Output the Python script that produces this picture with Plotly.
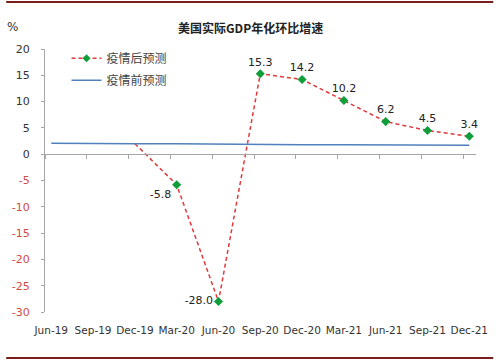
import plotly.graph_objects as go

categories = ["Jun-19", "Sep-19", "Dec-19", "Mar-20", "Jun-20", "Sep-20",
              "Dec-20", "Mar-21", "Jun-21", "Sep-21", "Dec-21"]
pre_covid = [2.1, 2.0, 2.0, 2.0, 1.9, 1.8, 1.8, 1.8, 1.8, 1.7, 1.7]
post_covid_cats = ["Dec-19", "Mar-20", "Jun-20", "Sep-20", "Dec-20",
                   "Mar-21", "Jun-21", "Sep-21", "Dec-21"]
post_covid = [2.0, -5.8, -28.0, 15.3, 14.2, 10.2, 6.2, 4.5, 3.4]
post_labels = ["", "-5.8", "-28.0", "15.3", "14.2", "10.2", "6.2", "4.5", "3.4"]
y_ticks = [-30, -25, -20, -15, -10, -5, 0, 5, 10, 15, 20]

pos = {c: i for i, c in enumerate(categories)}
x_pre = [pos[c] for c in categories]
x_post = [pos[c] for c in post_covid_cats]

RED = "#e0393b"
GREEN = "#0f9e3a"
BLUE = "#4f81bd"
NEG = "#d24a45"
AX = "#a6a6a6"

textpos = []
for i, v in enumerate(post_covid):
    if i == 0:
        textpos.append("top center")
    elif v < 0:
        textpos.append("bottom left" if v > -10 else "middle left")
    else:
        textpos.append("top center")

fig = go.Figure()
fig.add_trace(go.Scatter(
    x=x_post, y=post_covid, name="疫情后预测", mode="lines+markers+text",
    line=dict(color=RED, width=1.5, dash="4px,3px"),
    marker=dict(symbol="diamond", color=GREEN, line=dict(width=0), opacity=1,
                size=[0] + [7] * (len(post_covid) - 1)),
    text=post_labels, textposition=textpos,
    textfont=dict(family="DejaVu Sans", size=11, color="#222222"),
    cliponaxis=False, legendrank=1, legendgroup="post",
))
fig.add_trace(go.Scatter(
    x=x_pre, y=pre_covid, name="疫情前预测", mode="lines",
    line=dict(color=BLUE, width=1.5), legendrank=2, legendgroup="pre",
))
# carrier for the zero-line axis
fig.add_trace(go.Scatter(x=x_pre, y=[None] * len(x_pre), xaxis="x2",
                         showlegend=False, hoverinfo="skip", mode="lines"))

xr = [-0.15, 10.16]
boundary_ticks = [i - 0.15 for i in range(len(categories))]
tick_text = [
    (f"<span style='color:{NEG}'>{t}</span>" if t < 0 else str(t)) for t in y_ticks
]

fig.update_layout(
    width=500, height=361,
    margin=dict(l=36, r=14, t=49, b=49),
    paper_bgcolor="white", plot_bgcolor="white",
    font=dict(family="DejaVu Sans", size=10, color="#333333"),
    xaxis=dict(range=xr, tickvals=x_pre, ticktext=categories, showline=False,
               showgrid=False, zeroline=False, ticks="", ticklabelstandoff=10,
               tickfont=dict(size=10.5, color="#333333")),
    xaxis2=dict(range=xr, overlaying="x", anchor="free", position=0.6,
                showline=True, linecolor=AX, linewidth=1, ticks="outside",
                ticklen=4, tickcolor=AX, tickvals=boundary_ticks,
                showticklabels=False, showgrid=False, zeroline=False),
    yaxis=dict(range=[-30, 20], tickvals=y_ticks, ticktext=tick_text,
               showline=True, linecolor=AX, linewidth=1, ticks="outside",
               ticklen=3, tickcolor=AX, showgrid=False, zeroline=False,
               ticklabelstandoff=9, tickfont=dict(size=11, color="#333333")),
    legend=dict(x=0.05, y=1.02, xanchor="left", yanchor="top",
                traceorder="grouped", tracegroupgap=3,
                bgcolor="rgba(0,0,0,0)", font=dict(size=12, color="#444444",
                family="Noto Sans CJK SC"), itemwidth=30),
    showlegend=True,
    annotations=[
        dict(text="<b>美国实际GDP年化环比增速</b>", xref="paper", yref="paper",
             x=0.476, y=1.08, xanchor="center", yanchor="middle", showarrow=False,
             font=dict(family="Noto Sans CJK SC", size=12, color="#222222")),
        dict(text="%", xref="paper", yref="paper", x=-0.058, y=1.085,
             xanchor="right", yanchor="middle", showarrow=False,
             font=dict(size=12, color="#333333")),
    ],
    shapes=[
        dict(type="line", xref="paper", yref="paper", x0=-0.09, x1=1.04,
             y0=1.179, y1=1.179, line=dict(color="#7b1c1c", width=2)),
        dict(type="line", xref="paper", yref="paper", x0=-0.09, x1=1.04,
             y0=-0.175, y1=-0.175, line=dict(color="#7b1c1c", width=2)),
    ],
)

fig.write_html("out.html", config={"displayModeBar": False},
               post_script="document.body.style.margin='0';")
